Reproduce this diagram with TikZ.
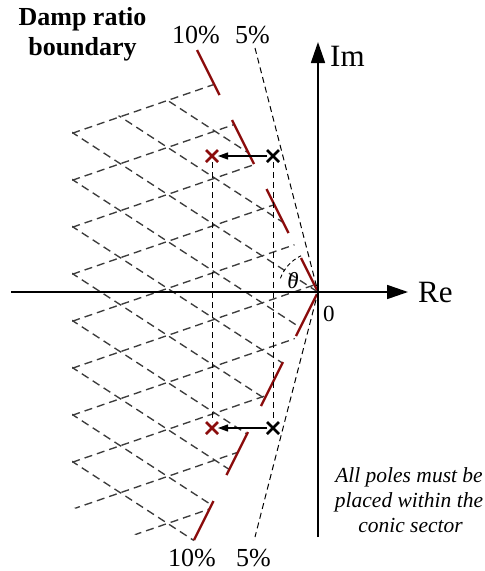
\documentclass[tikz,border=0pt]{standalone}
\usepackage{fontspec}
\setmainfont{Liberation Serif}
\usetikzlibrary{arrows.meta,shapes.misc}
\definecolor{dred}{RGB}{139,12,12}
\definecolor{hatchgray}{RGB}{60,60,60}
\begin{document}
\begin{tikzpicture}[x=1pt,y=-1pt,
  hatchline/.style={draw=hatchgray, line width=1.35pt, dash pattern=on 8pt off 5pt},
  redseg/.style={draw=dred, line width=2.3pt},
  guide/.style={draw=black, line width=1pt, dash pattern=on 6pt off 4pt},
  axisline/.style={draw=black, line width=1.7pt, -{Triangle[length=21pt,width=14pt]}},
  pole/.style={draw, cross out, minimum size=12pt, inner sep=0pt, outer sep=0pt, line width=2.8pt},
  lbl/.style={inner sep=0pt, anchor=base},
]
\useasboundingbox (0,0) rectangle (485,571);
\coordinate (O) at (318,292);

% hatch lattice (region beyond the 10% boundary)
\begin{scope}
\clip (72,131.5) -- (213.6,83.1) -- (318,292) -- (193.5,541) -- (150,541) -- (72,507) -- cycle;
\foreach \i in {-3,...,10} {
  \draw[hatchline] (60,{133+47*\i+0.3443*13}) -- (330,{133+47*\i-0.3443*257});
  \draw[hatchline] (60,{133+47*\i-0.6494*13}) -- (330,{133+47*\i+0.6494*257});
}
\end{scope}

% 10% boundary (red segments)
\draw[redseg] (197,50) -- (219.5,95);
\draw[redseg] (232,120) -- (254,164);
\draw[redseg] (266.5,189) -- (288.5,233);
\draw[redseg] (301,258) -- (317,290);
\draw[redseg] (317,294) -- (296,336);
\draw[redseg] (283,362) -- (261,406);
\draw[redseg] (248,432) -- (226.5,475);
\draw[redseg] (213.5,501) -- (194,540);

% 5% boundary
\coordinate (f5t) at (255,48);
\coordinate (f5b) at (255,537);
\draw[guide] (f5t) -- (O) -- (f5b);

% theta arc
\draw[guide, line width=0.9pt, dash pattern=on 4pt off 3pt] ([shift={(200:40)}]O) arc[start angle=200, end angle=245, radius=40];

% axes
\coordinate (reL) at (11,292);
\coordinate (reR) at (408,292);
\coordinate (imB) at (318,537);
\coordinate (imT) at (318,42);
\draw[axisline] (reL) -- (reR);
\draw[axisline] (imB) -- (imT);

% poles
\node[pole, draw=black] (bx1) at (273,156) {};
\node[pole, draw=dred] (rx1) at (212,156) {};
\node[pole, draw=black] (bx2) at (273,428) {};
\node[pole, draw=dred] (rx2) at (212,428) {};
\draw[guide] (rx1) -- (rx2);
\draw[guide] (bx1) -- (bx2);
\draw[line width=1.1pt, -{Triangle[length=10pt,width=7pt]}] (bx1) -- (rx1);
\draw[line width=1.1pt, -{Triangle[length=10pt,width=7pt]}] (bx2) -- (rx2);

% labels
\node[lbl] (t1) at (82.5,25) {\fontsize{26}{30}\selectfont\bfseries Damp ratio};
\node[lbl] (t2) at (82.5,55) {\fontsize{26}{30}\selectfont\bfseries boundary};
\node[lbl] (p10t) at (196,43) {\fontsize{26}{30}\selectfont 10\%};
\node[lbl] (p5t) at (252.5,43) {\fontsize{26}{30}\selectfont 5\%};
\node[lbl] (p10b) at (192,566) {\fontsize{26}{30}\selectfont 10\%};
\node[lbl] (p5b) at (253.5,566) {\fontsize{26}{30}\selectfont 5\%};
\node[lbl, anchor=base west] (im) at (330,66.5) {\fontsize{31}{36}\selectfont Im};
\node[lbl, anchor=base west] (re) at (418,302.5) {\fontsize{31}{36}\selectfont Re};
\node[lbl, anchor=base west] (zero) at (323,321.5) {\fontsize{23}{26}\selectfont 0};
\node[inner sep=0pt] (th) at (293,281) {\fontsize{23}{26}\selectfont\itshape θ};
\node[lbl] (n1) at (409,482) {\fontsize{21.5}{25}\selectfont\itshape All poles must be};
\node[lbl] (n2) at (409,507) {\fontsize{21.5}{25}\selectfont\itshape placed within the};
\node[lbl] (n3) at (410.5,532) {\fontsize{21.5}{25}\selectfont\itshape conic sector};
\end{tikzpicture}
\end{document}
